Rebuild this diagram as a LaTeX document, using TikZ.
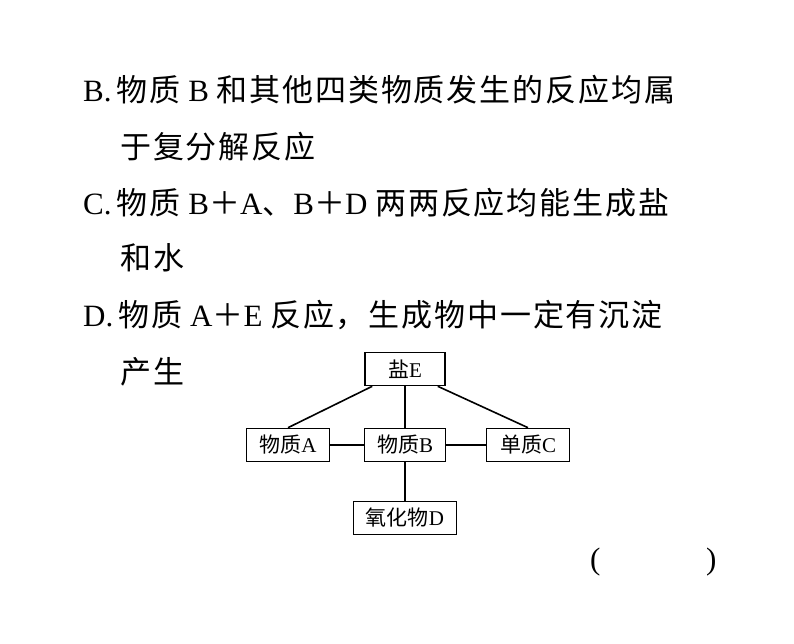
\documentclass[tikz,border=0pt]{standalone}
\usepackage{fontspec}
\setmainfont{Liberation Serif}
\newfontfamily\cjk{Noto Sans CJK SC}[LetterSpace=6]
\newfontfamily\cjkbox{Noto Sans CJK SC}
\newcommand{\zh}[1]{{\cjk #1}}
\newcommand{\zb}[1]{{\cjkbox #1}}
\usetikzlibrary{positioning}
\tikzset{
  line/.style={anchor=west, inner sep=0pt, font=\fontsize{31}{31}\selectfont},
  box/.style={draw, line width=1.6pt, minimum height=33pt, inner sep=3pt, font=\fontsize{21}{21}\selectfont},
  link/.style={line width=1.6pt}
}
\begin{document}
\begin{tikzpicture}[x=1pt,y=-1pt]
\useasboundingbox (0,0) rectangle (794,644);
\node[line] (lb1) at (83,90) {B.\,\zh{物质} B \zh{和其他四类物质发生的反应均属}};
\node[line] (lb2) at (120,147) {\zh{于复分解反应}};
\node[line] (lc1) at (83,203) {C.\,\zh{物质} B\zh{＋}A\zh{、}B\zh{＋}D \zh{两两反应均能生成盐}};
\node[line] (lc2) at (120,258) {\zh{和水}};
\node[line] (ld1) at (83,315) {D.\,\zh{物质} A\zh{＋}E \zh{反应，生成物中一定有沉淀}};
\node[line] (ld2) at (120,372) {\zh{产生}};
\node[line] (lp1) at (590,562) {(};
\node[line] (lp2) at (706,562) {)};
% diagram
\node[box, minimum width=80pt] (E) at (405,369) {\zb{盐}E};
\node[box, minimum width=83pt] (A) at (288,445) {\zb{物质}A};
\node[box, minimum width=81pt] (B) at (405,445) {\zb{物质}B};
\node[box, minimum width=83pt] (C) at (528,445) {\zb{单质}C};
\node[box, minimum width=103pt] (D) at (405,518) {\zb{氧化物}D};
\draw[link] ([xshift=8pt]E.south west) -- (A.north);
\draw[link] (E.south) -- (B.north);
\draw[link] ([xshift=-8pt]E.south east) -- (C.north);
\draw[link] (A.east) -- (B.west);
\draw[link] (B.east) -- (C.west);
\draw[link] (B.south) -- (D.north);
\end{tikzpicture}
\end{document}
